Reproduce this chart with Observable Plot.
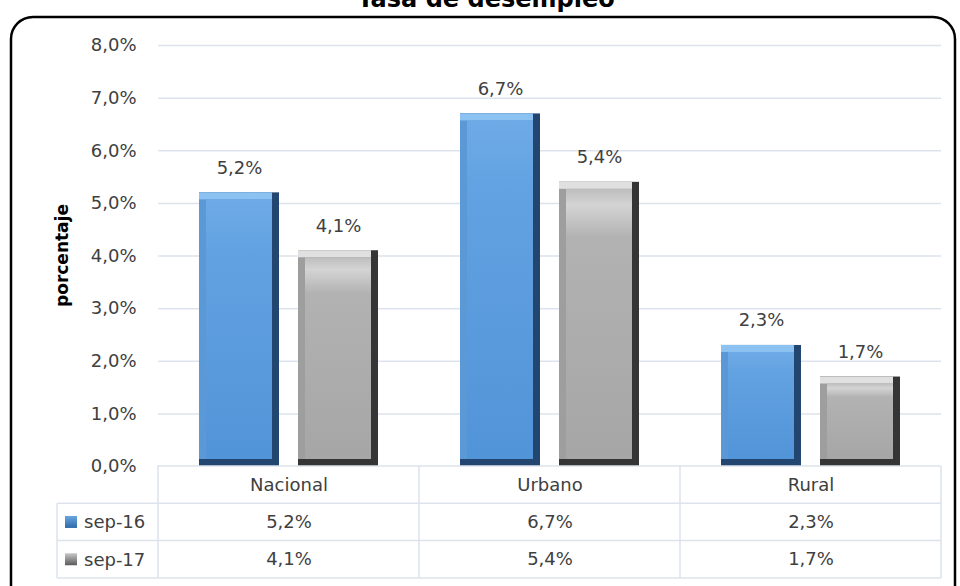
<!DOCTYPE html>
<html>
<head>
<meta charset="utf-8">
<script src="https://cdn.jsdelivr.net/npm/d3@7"></script>
<script src="https://cdn.jsdelivr.net/npm/@observablehq/plot@0.6"></script>
<style>
  html, body { margin: 0; padding: 0; background: #fff; }
  #chart { width: 960px; height: 586px; overflow: hidden; }
</style>
</head>
<body>
<div id="chart"></div>
<script>
const title = "Tasa de desempleo";
const yLabel = "porcentaje";
const categories = ["Nacional", "Urbano", "Rural"];
const series = ["sep-16", "sep-17"];
const sep16 = [5.2, 6.7, 2.3];
const sep17 = [4.1, 5.4, 1.7];
const yTicks = [0, 1, 2, 3, 4, 5, 6, 7, 8];

const fmt = v => v.toFixed(1).replace(".", ",") + "%";
const data16 = categories.map((c, i) => ({cat: c, s: series[0], v: sep16[i]}));
const data17 = categories.map((c, i) => ({cat: c, s: series[1], v: sep17[i]}));
const data = data16.concat(data17);

const FONT = "DejaVu Sans";
const TXT = "#404040";
const bev = 7;

function bevelBars(d, dark, side, top, face) {
  const base = {fx: "cat", x: "s"};
  return [
    Plot.barY(d, {...base, y: "v", fill: dark}),
    Plot.barY(d, {...base, y: "v", fill: side, insetRight: bev, insetBottom: bev}),
    Plot.barY(d, {...base, y1: "v", y2: "v", fill: top, insetRight: bev, insetBottom: -bev}),
    Plot.barY(d, {...base, y: "v", fill: face, insetLeft: bev, insetRight: bev, insetTop: bev, insetBottom: bev})
  ];
}

const plot = Plot.plot({
  width: 960,
  height: 586,
  marginLeft: 157,
  marginRight: 19,
  marginTop: 45,
  marginBottom: 120,
  style: {fontFamily: FONT, fontSize: "18px", color: TXT, background: "transparent"},
  fx: {domain: categories, padding: 0, axis: null, label: null},
  x: {domain: series, paddingInner: 0.19, paddingOuter: 0.40, axis: null, label: null},
  y: {domain: [0, 8], ticks: yTicks, tickFormat: fmt, tickSize: 0, tickPadding: 22, label: null},
  marks: [
    Plot.ruleY(yTicks.filter(t => t > 0), {stroke: "#dde3ec", strokeWidth: 1.5}),
    ...bevelBars(data16, "#22466f", "#5a98d6", "#8cc2f2", "url(#faceBlue)"),
    ...bevelBars(data17, "#353535", "#9e9e9e", "#e0e0e0", "url(#faceGray)"),
    Plot.text(data, {fx: "cat", x: "s", y: "v", text: d => fmt(d.v), dy: -25, fill: TXT, fontSize: 18}),
    Plot.text(categories, {fx: d => d, text: d => d, frameAnchor: "bottom", dy: 24, fill: TXT, fontSize: 18}),
    Plot.text(data16, {fx: "cat", text: d => fmt(d.v), frameAnchor: "bottom", dy: 61, fill: TXT, fontSize: 18}),
    Plot.text(data17, {fx: "cat", text: d => fmt(d.v), frameAnchor: "bottom", dy: 98, fill: TXT, fontSize: 18})
  ]
});

document.getElementById("chart").appendChild(plot);

const svg = d3.select(plot);
const defs = svg.insert("defs", ":first-child");
function grad(id, stops) {
  const g = defs.append("linearGradient").attr("id", id)
    .attr("x1", 0).attr("y1", 0).attr("x2", 0).attr("y2", 1);
  stops.forEach(([o, c]) => g.append("stop").attr("offset", o).attr("stop-color", c));
}
grad("faceBlue", [[0, "#6eaae6"], [0.2, "#62a2e2"], [1, "#5294d8"]]);
grad("faceGray", [[0, "#bdbdbd"], [0.06, "#d4d4d4"], [0.18, "#b2b2b2"], [1, "#a6a6a6"]]);
grad("iconBlue", [[0, "#6aa6e2"], [1, "#2f6aa8"]]);
grad("iconGray", [[0, "#c8c8c8"], [1, "#5a5a5a"]]);

// table
const fx = plot.scale("fx");
const ys = plot.scale("y");
const y0 = ys.apply(0);
const left = fx.range[0], right = fx.range[1];
const rowH = 37.3;
const tableLeft = 57;
const lineColor = "#dde3ec";
const tg = svg.append("g").attr("stroke", lineColor).attr("stroke-width", 1.5);
tg.append("line").attr("x1", left).attr("x2", right).attr("y1", y0).attr("y2", y0);
for (let r = 1; r <= 3; r++) {
  const yy = y0 + r * rowH;
  tg.append("line").attr("x1", tableLeft).attr("x2", right).attr("y1", yy).attr("y2", yy);
}
tg.append("line").attr("x1", tableLeft).attr("x2", tableLeft).attr("y1", y0 + rowH).attr("y2", y0 + 3 * rowH);
const vx = categories.map(c => fx.apply(c)).concat([right]);
vx.forEach(x => tg.append("line").attr("x1", x).attr("x2", x).attr("y1", y0).attr("y2", y0 + 3 * rowH));

// legend column
const lg = svg.append("g").attr("font-family", FONT).attr("font-size", 18).attr("fill", TXT)
  .attr("text-anchor", "start");
series.forEach((s, i) => {
  const cy = y0 + (i + 1.5) * rowH;
  lg.append("rect").attr("x", 65).attr("y", cy - 6).attr("width", 12).attr("height", 12)
    .attr("fill", i === 0 ? "url(#iconBlue)" : "url(#iconGray)");
  lg.append("text").attr("x", 84).attr("y", cy).attr("dy", "0.35em").text(s);
});

// y label
svg.append("text")
  .attr("transform", `translate(68,${(ys.apply(0) + ys.apply(8)) / 2}) rotate(-90)`)
  .attr("text-anchor", "middle")
  .attr("font-family", FONT).attr("font-weight", "bold").attr("font-size", 17).attr("fill", "#000")
  .text(yLabel);

// frame and title
svg.append("rect").attr("x", 11).attr("y", 17).attr("width", 944).attr("height", 600)
  .attr("rx", 22).attr("fill", "none").attr("stroke", "#000").attr("stroke-width", 2.5);
svg.append("text").attr("x", 486).attr("y", 7).attr("text-anchor", "middle")
  .attr("font-family", FONT).attr("font-weight", "bold").attr("font-size", 24).attr("fill", "#000")
  .text(title);
</script>
</body>
</html>
